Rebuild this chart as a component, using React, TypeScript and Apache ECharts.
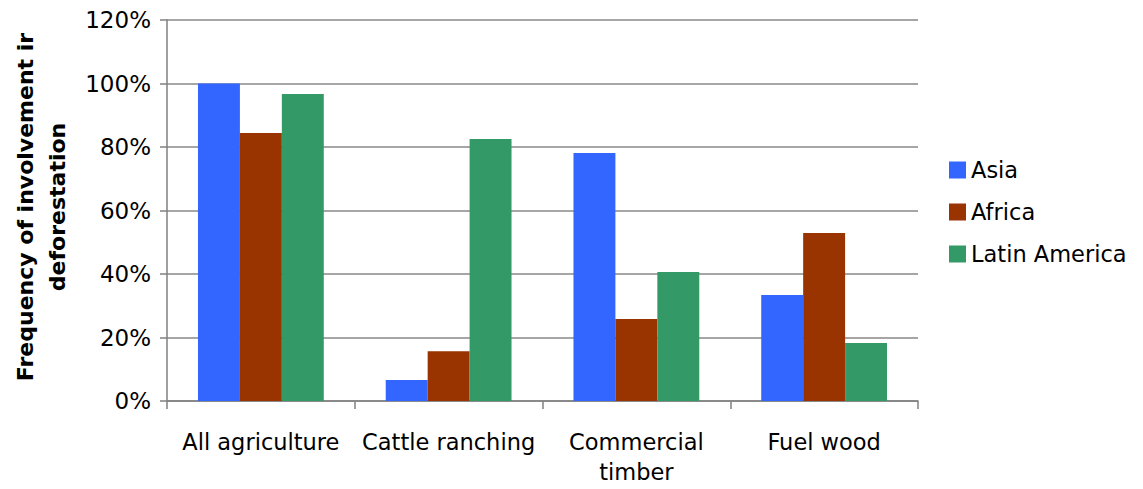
import React, { useEffect, useRef } from "react";
import * as echarts from "echarts";

const categories = ["All agriculture", "Cattle ranching", "Commercial\ntimber", "Fuel wood"];
const asia = [100, 6.6, 78.1, 33.4];
const africa = [84.4, 15.7, 25.8, 52.9];
const latinAmerica = [96.7, 82.5, 40.6, 18.3];
const seriesNames = ["Asia", "Africa", "Latin America"];
const colors = ["#3366FF", "#993300", "#339966"];
const yTitle = "Frequency of involvement ir\ndeforestation";

const FONT = "DejaVu Sans";

export default function App() {
  const ref = useRef<HTMLDivElement>(null);
  useEffect(() => {
    if (!ref.current) return;
    const chart = echarts.init(ref.current, undefined, { renderer: "svg" });
    const data = [asia, africa, latinAmerica];
    chart.setOption({
      animation: false,
      backgroundColor: "#ffffff",
      grid: { left: 167, right: 225, top: 20, bottom: 88, containLabel: false },
      legend: {
        orient: "vertical",
        left: 949,
        top: 157,
        padding: 0,
        itemWidth: 17,
        itemHeight: 17,
        itemGap: 16,
        icon: "rect",
        data: seriesNames,
        textStyle: { fontFamily: FONT, fontSize: 22.5, color: "#000", lineHeight: 26 },
      },
      xAxis: {
        type: "category",
        data: categories,
        boundaryGap: true,
        axisLine: { lineStyle: { color: "#808080", width: 1.5 } },
        axisTick: { show: true, length: 8, alignWithLabel: false, lineStyle: { color: "#808080", width: 1.5 } },
        axisLabel: { fontFamily: FONT, fontSize: 22.5, color: "#000", margin: 26, lineHeight: 30, interval: 0 },
      },
      yAxis: {
        type: "value",
        min: 0,
        max: 120,
        interval: 20,
        axisLine: { show: true, lineStyle: { color: "#808080", width: 1.5 } },
        axisTick: { show: true, length: 7, lineStyle: { color: "#808080", width: 1.5 } },
        splitLine: { show: true, lineStyle: { color: "#888888", width: 1.5 } },
        axisLabel: { fontFamily: FONT, fontSize: 23, color: "#000", margin: 16, formatter: (v: number) => v + "%" },
      },
      graphic: [
        {
          type: "text",
          x: 41,
          y: 207,
          rotation: Math.PI / 2,
          style: {
            text: yTitle,
            align: "center",
            verticalAlign: "middle",
            fontFamily: FONT,
            fontWeight: "bold",
            fontSize: 22,
            lineHeight: 32,
            fill: "#000",
          },
        },
      ],
      series: seriesNames.map((name, i) => ({
        name,
        type: "bar",
        data: data[i],
        barGap: "0%",
        barCategoryGap: "33%",
        itemStyle: { color: colors[i] },
      })),
    });
    return () => chart.dispose();
  }, []);
  return <div ref={ref} style={{ position: "absolute", left: 0, top: 0, width: 1143, height: 489 }} />;
}
